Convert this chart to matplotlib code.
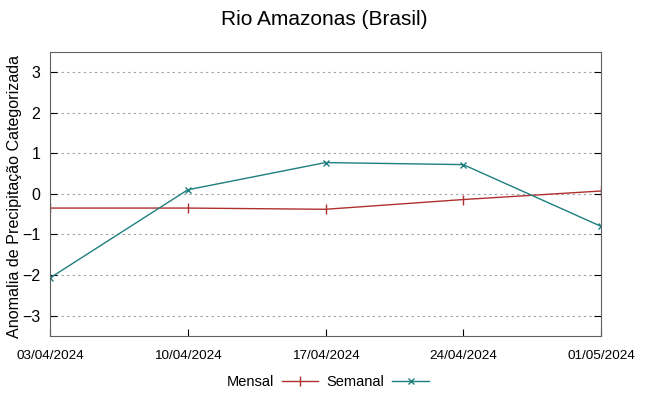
import matplotlib
matplotlib.use("Agg")
import matplotlib.pyplot as plt
import pandas as pd

plt.rcParams['font.family'] = ['Liberation Sans', 'DejaVu Sans']

dates = ["03/04/2024", "10/04/2024", "17/04/2024", "24/04/2024", "01/05/2024"]
mensal = [-0.35, -0.35, -0.38, -0.14, 0.07]
semanal = [-2.07, 0.10, 0.77, 0.72, -0.80]

x = pd.to_datetime(dates, format="%d/%m/%Y")

fig = plt.figure(figsize=(6.49, 3.96), dpi=100)
ax = fig.add_axes([50 / 649, 1 - 336 / 396, 551 / 649, 284.3 / 396])

ax.plot(x, mensal, color="#b03030", lw=1, marker="|", ms=7, mew=1, label="Mensal")
ax.plot(x, semanal, color="#1e7f7f", lw=1, marker="x", ms=5, mew=1, label="Semanal")

ax.set_xlim(x[0], x[-1])
ax.set_ylim(-3.5, 3.5)
ax.set_yticks(range(-3, 4))
ax.set_xticks(x)
ax.set_xticklabels(dates, fontsize=9.7)
ax.tick_params(axis="y", labelsize=11.5, direction="in", length=5, pad=7)
ax.tick_params(axis="x", direction="in", length=5, pad=10)
ax.tick_params(right=True, top=False)
ax.grid(axis="y", color="#a0a0a0", ls=(0, (2, 3)), lw=0.8)
for s in ax.spines.values():
    s.set_color("#606060")

ax.set_ylabel("Anomalia de Precipitação Categorizada", fontsize=11.6,
              va="center")
ax.yaxis.set_label_coords(-0.064, 0.49)
fig.suptitle("Rio Amazonas (Brasil)", fontsize=15, y=0.975)

fig.legend(loc="lower center", ncol=2, frameon=False, fontsize=10.5,
           bbox_to_anchor=(0.505, -0.015), handlelength=2.5, handletextpad=0.55,
           columnspacing=0.55, markerfirst=False)

fig.savefig("out.png", dpi=100)
